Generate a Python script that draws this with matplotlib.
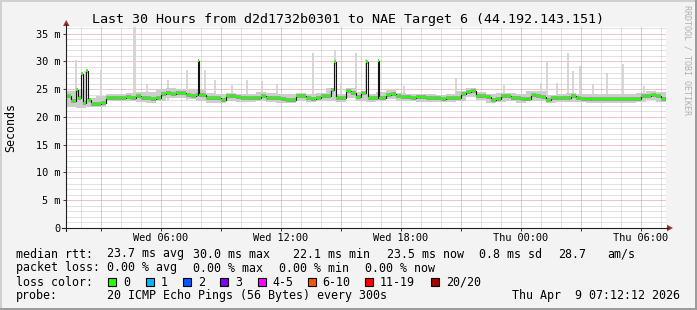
import numpy as np
import matplotlib
matplotlib.use("Agg")
import matplotlib.pyplot as plt
from matplotlib.lines import Line2D
from matplotlib.patches import Rectangle, Polygon

# time axis: hours since Wed 00:00, 30 hour window
T_START = 1.25
T_END = 31.25

# median rtt (ms), one value per 15 minutes
median_ms = [
    23.7, 22.8, 23.4, 22.5, 23.0, 22.3, 22.3, 22.6, 23.5, 23.5,
    23.5, 23.5, 23.6, 23.5, 23.7, 23.4, 23.4, 23.2, 23.4, 24.2,
    24.3, 24.2, 24.4, 24.3, 24.0, 23.8, 24.0, 23.9, 23.4, 23.4,
    23.4, 23.1, 23.7, 23.7, 23.6, 23.4, 23.4, 23.4, 23.4, 23.8,
    23.5, 23.5, 23.5, 23.3, 23.1, 23.1, 23.7, 23.7, 23.4, 23.3,
    23.4, 23.7, 23.7, 24.9, 23.4, 23.4, 24.6, 24.4, 23.6, 24.3,
    23.4, 23.4, 23.5, 23.5, 24.0, 24.1, 23.7, 23.6, 23.6, 23.5,
    23.6, 23.6, 23.4, 23.4, 23.4, 23.3, 23.4, 23.4, 23.5, 24.2,
    24.5, 24.6, 23.8, 23.7, 23.6, 23.1, 23.3, 23.7, 23.7, 23.4,
    23.4, 23.2, 23.3, 24.0, 23.8, 23.6, 23.1, 23.4, 23.4, 23.4,
    23.4, 23.7, 23.4, 23.3, 23.3, 23.3, 23.3, 23.3, 23.3, 23.3,
    23.3, 23.3, 23.2, 23.3, 23.3, 23.8, 23.8, 23.9, 23.8, 23.2,
]

# single 5-minute median spikes
spike_hours = [1.78, 1.98, 2.25, 7.85, 14.68, 16.25, 16.83]
spike_ms = [24.9, 27.8, 28.3, 30.1, 29.9, 29.9, 30.1]

# smoke band (ms), one value per 30 minutes
smoke_lo = [
    21.8, 21.7, 21.8, 21.8, 22.8, 22.8, 22.8, 22.7, 22.6, 22.8,
    23.4, 23.5, 23.3, 22.9, 22.6, 22.5, 22.8, 22.7, 22.7, 22.8,
    22.7, 22.6, 22.5, 22.8, 22.7, 22.8, 22.9, 22.7, 23.5, 22.9,
    22.7, 22.8, 23.2, 22.9, 22.8, 22.7, 22.7, 22.7, 22.7, 22.9,
    23.6, 23.0, 22.6, 22.7, 22.9, 22.6, 22.8, 22.9, 22.6, 22.7,
    22.7, 22.7, 22.6, 22.6, 22.6, 22.6, 22.6, 22.7, 23.1, 22.7,
]
smoke_hi = [
    24.6, 25.0, 23.5, 23.8, 24.2, 24.2, 24.4, 24.5, 24.5, 25.0,
    25.2, 25.0, 24.9, 24.8, 24.3, 24.2, 24.4, 24.2, 24.2, 24.5,
    24.3, 24.2, 24.1, 24.4, 24.2, 24.4, 25.2, 24.2, 25.2, 24.5,
    24.2, 24.5, 24.9, 24.4, 24.2, 24.1, 24.1, 24.0, 24.1, 24.6,
    25.2, 24.5, 24.1, 24.4, 24.4, 24.1, 24.6, 24.6, 24.0, 24.1,
    24.3, 24.2, 24.1, 24.1, 24.1, 24.1, 24.1, 24.4, 24.6, 24.5,
]

# outlier pings (max rtt) above the smoke band
max_hours = [
    1.75, 2.20, 3.00, 4.625, 4.71, 5.30, 6.35, 7.30, 8.20, 8.70,
    9.55, 10.30, 11.05, 11.80, 13.60, 14.70, 15.00, 15.75, 16.25, 16.90,
    18.15, 20.75, 23.15, 25.00, 25.30, 25.80, 26.35, 26.60, 26.95, 27.60,
    28.30, 29.10, 30.15,
]
max_ms = [
    30.3, 28.2, 28.5, 36.2, 36.2, 26.0, 26.7, 28.5, 28.5, 26.7,
    25.8, 26.7, 26.4, 26.0, 31.5, 32.0, 26.1, 31.5, 30.5, 27.0,
    25.5, 27.0, 25.8, 26.1, 30.1, 26.1, 31.5, 28.2, 29.2, 26.0,
    28.0, 29.5, 25.5,
]

xtick_hours = [6, 12, 18, 24, 30]
xtick_labels = ["Wed 06:00", "Wed 12:00", "Wed 18:00", "Thu 00:00", "Thu 06:00"]
ytick_ms = [0, 5, 10, 15, 20, 25, 30, 35]
ytick_labels = ["0", "5 m", "10 m", "15 m", "20 m", "25 m", "30 m", "35 m"]

loss_labels = ["0", "1", "2", "3", "4-5", "6-10", "11-19", "20/20"]
loss_colors = ["#26ff00", "#00b8ff", "#0059ff", "#7e00ff", "#ff00ff",
               "#ff5500", "#ff0000", "#a10000"]

W, H = 697, 310
MONO = "DejaVu Sans Mono"


def fx(x):
    return x / W


def fy(y):
    return 1 - y / H


fig = plt.figure(figsize=(W / 100, H / 100), dpi=100, facecolor="#f3f3f3")
ax = fig.add_axes([fx(66), fy(228), 600 / W, (228 - 26.5) / H])
ax.set_facecolor("white")
ax.set_xlim(T_START, T_END)
ax.set_ylim(0, 36.3)

# grid, drawn by hand as dotted lines (1 px on, 1 px off)
ax.set_xticks(np.arange(3, 31, 3))
ax.set_yticks(ytick_ms)
dots = (0, (1, 1))
minor_x = [h for h in range(2, 32) if h % 3]
minor_y = [v for v in range(1, 37) if v % 5]
ax.vlines(minor_x, 0, 36.3, colors="#c4c4c4", lw=0.72, linestyles=dots, zorder=0.5)
ax.hlines(minor_y, T_START, T_END, colors="#c4c4c4", lw=0.72, linestyles=dots, zorder=0.5)
ax.vlines(np.arange(3, 31, 3), 0, 36.3, colors="#e48888", lw=0.72, linestyles=dots, zorder=0.6)
ax.hlines(ytick_ms[1:], T_START, T_END, colors="#e48888", lw=0.72, linestyles=dots, zorder=0.6)

xlabs = []
for h in np.arange(3, 31, 3):
    xlabs.append(xtick_labels[xtick_hours.index(h)] if h in xtick_hours else "")
ax.set_xticklabels(xlabs, fontfamily=MONO, fontsize=7.4)
ax.set_yticklabels(ytick_labels, fontfamily=MONO, fontsize=7.4)
ax.tick_params(which="major", length=2.2, width=0.72, color="#404040", pad=1.5)
for s in ax.spines.values():
    s.set_visible(False)

# outlier pings
mh = np.array(max_hours)
mm = np.array(max_ms)
ax.bar(mh, mm - 23.0, bottom=23.0, width=1 / 12, color="#d6d6d6", lw=0, zorder=2)

# smoke band
t30 = T_START + np.arange(len(smoke_lo)) * 0.5
tb = np.append(t30, T_END)
ax.fill_between(tb, np.append(smoke_lo, smoke_lo[-1]), np.append(smoke_hi, smoke_hi[-1]),
                step="post", color="#cdcdcd", lw=0, zorder=3)

# median on 5 minute steps
med5 = np.repeat(median_ms, 3).astype(float)
for h, v in zip(spike_hours, spike_ms):
    med5[int(round((h - T_START) * 12))] = v
dt = 1 / 12
t5 = T_START + np.arange(len(med5)) * dt
ax.hlines(med5, t5, t5 + dt, color="#999999", lw=2.6, zorder=4)
ax.step(np.append(t5, T_END), np.append(med5, med5[-1]), where="post",
        color="#111111", lw=0.8, zorder=5)
ax.hlines(med5, t5, t5 + dt, color=loss_colors[0], lw=1.6, zorder=6)

# axes with arrows
fig.add_artist(Line2D([fx(66), fx(66)], [fy(231), fy(24)], color="#202020", lw=0.8))
fig.add_artist(Line2D([fx(62), fx(668)], [fy(228), fy(228)], color="#202020", lw=0.8))
fig.add_artist(Polygon([(fx(63), fy(26)), (fx(69.5), fy(26)), (fx(66.2), fy(20))],
                       closed=True, color="#a03030", lw=0))
fig.add_artist(Polygon([(fx(667), fy(224.8)), (fx(667), fy(231.2)), (fx(673), fy(228))],
                       closed=True, color="#a03030", lw=0))

# frame of the canvas
fig.add_artist(Line2D([0, 1], [fy(0.5), fy(0.5)], color="#d0d0d0", lw=1.4))
fig.add_artist(Line2D([fx(0.5), fx(0.5)], [0, 1], color="#d0d0d0", lw=1.4))
fig.add_artist(Line2D([0, 1], [fy(309), fy(309)], color="#9a9a9a", lw=1.4))
fig.add_artist(Line2D([fx(696), fx(696)], [0, 1], color="#9a9a9a", lw=1.4))

# titles
fig.text(fx(348.5), fy(19), "Last 30 Hours from d2d1732b0301 to NAE Target 6 (44.192.143.151)",
         ha="center", va="center", fontfamily=MONO, fontsize=9.6)
fig.text(fx(11), fy(127), "Seconds", rotation=90, ha="center", va="center",
         fontfamily=MONO, fontsize=8.4)
fig.text(fx(687), fy(60), "RRDTOOL / TOBI OETIKER", rotation=270, ha="center", va="center",
         fontfamily=MONO, fontsize=6.0, color="#b0b0b0")

# legend
def txt(x, y, s, **kw):
    fig.text(fx(x), fy(y), s, ha="left", va="center", fontfamily=MONO, fontsize=8.4, **kw)


txt(16, 254, "median rtt:")
for x, s in zip([107, 193, 293, 387, 479, 558, 607],
                ["23.7 ms avg", "30.0 ms max", "22.1 ms min", "23.5 ms now",
                 "0.8 ms sd", "28.7", "am/s"]):
    txt(x, 254, s)
txt(16, 268, "packet loss:")
for x, s in zip([107, 193, 279, 365],
                ["0.00 % avg", "0.00 % max", "0.00 % min", "0.00 % now"]):
    txt(x, 268, s)
txt(16, 282, "loss color:")
box_x = [108, 146, 183, 220, 257.5, 307.5, 365, 431]
for bx, lab, c in zip(box_x, loss_labels, loss_colors):
    fig.add_artist(Rectangle((fx(bx), fy(286)), 8 / W, 8 / H, facecolor=c,
                             edgecolor="black", lw=0.8))
    txt(bx + 15, 282, lab)
txt(16, 296, "probe:")
txt(107, 296, "20 ICMP Echo Pings (56 Bytes) every 300s")
fig.text(fx(680), fy(296), "Thu Apr  9 07:12:12 2026", ha="right", va="center",
         fontfamily=MONO, fontsize=8.4)

fig.savefig("out.png", dpi=100, facecolor=fig.get_facecolor())
